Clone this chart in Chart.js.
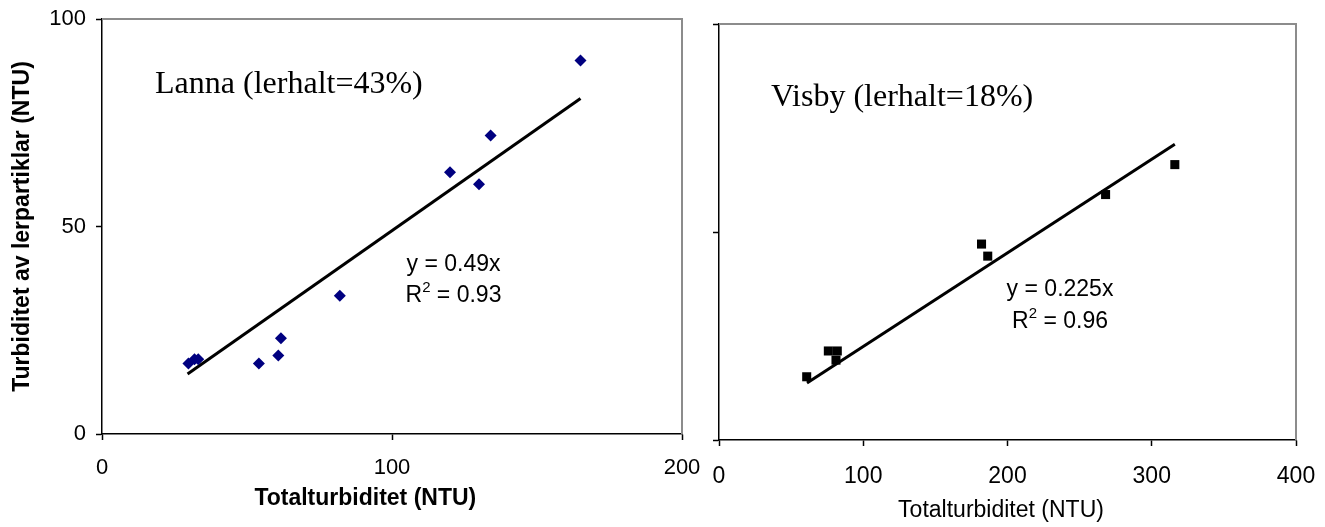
<!DOCTYPE html>
<html lang="sv">

<head>
  <meta charset="utf-8">
  <title>Turbiditet</title>
  <script src="https://cdn.jsdelivr.net/npm/chart.js"></script>
  <style>
    body { margin: 0; background: #fff; }
    #left_box { position: absolute; left: 0; top: 0; width: 700px; height: 527px; }
    #right_box { position: absolute; left: 700px; top: 0; width: 625px; height: 527px; }
  </style>

  <script type="text/javascript">
    // Lanna (lerhalt=43%)
    const lannaX = [29.8, 31.9, 33.2, 54.1, 60.8, 61.7, 82, 120, 130, 134, 165];
    const lannaY = [17.0, 18.0, 18.0, 17.0, 18.9, 23.1, 33.3, 63.1, 60.2, 71.9, 90.0];
    const lannaSlope = 0.49;
    const lannaFitRange = [29.5, 165];

    // Visby (lerhalt=18%)
    const visbyX = [60.8, 75.8, 82.0, 81.1, 182, 186.3, 268, 316];
    const visbyY = [15.2, 21.4, 21.4, 19.2, 47.1, 44.2, 59.0, 66.2];
    const visbySlope = 0.225;
    const visbyFitRange = [61, 316];

    const lannaXTicks = [0, 100, 200];
    const visbyXTicks = [0, 100, 200, 300, 400];
    const yTicks = [0, 50, 100];

    const SANS = "'Liberation Sans', Arial, sans-serif";
    const SERIF = "'Liberation Serif', 'Times New Roman', serif";

    function toPoints(xs, ys) {
      return xs.map((x, i) => ({ x: x, y: ys[i] }));
    }

    function fitLine(slope, range) {
      return range.map(x => ({ x: x, y: slope * x }));
    }

    // grey top/right frame of the plot area
    const framePlugin = {
      id: 'frame',
      beforeDatasetsDraw(chart) {
        const a = chart.chartArea;
        const ctx = chart.ctx;
        ctx.save();
        ctx.strokeStyle = '#8c8c8c';
        ctx.lineWidth = 2;
        ctx.beginPath();
        ctx.moveTo(a.left, a.top);
        ctx.lineTo(a.right, a.top);
        ctx.lineTo(a.right, a.bottom);
        ctx.stroke();
        ctx.restore();
      }
    };

    // text placed in data coordinates, plus the x axis title (Excel puts it off-centre)
    const notesPlugin = {
      id: 'notes',
      afterDatasetsDraw(chart, args, opts) {
        const ctx = chart.ctx;
        const sx = chart.scales.x, sy = chart.scales.y;
        ctx.save();
        ctx.fillStyle = '#000';
        ctx.textBaseline = 'middle';
        (opts.items || []).forEach(n => {
          const px = sx.getPixelForValue(n.x);
          const py = sy.getPixelForValue(n.y);
          ctx.font = n.font;
          if (n.sup) {
            const small = '15px ' + SANS;
            const w1 = ctx.measureText(n.text).width;
            const w3 = ctx.measureText(n.rest).width;
            ctx.font = small;
            const w2 = ctx.measureText(n.sup).width;
            let x0 = n.align === 'center' ? px - (w1 + w2 + w3) / 2 : px;
            ctx.textAlign = 'left';
            ctx.font = n.font;
            ctx.fillText(n.text, x0, py);
            ctx.font = small;
            ctx.fillText(n.sup, x0 + w1, py - 8);
            ctx.font = n.font;
            ctx.fillText(n.rest, x0 + w1 + w2, py);
          } else {
            ctx.textAlign = n.align || 'left';
            ctx.fillText(n.text, px, py);
          }
        });
        if (opts.xTitle) {
          const t = opts.xTitle;
          ctx.font = t.font;
          ctx.textAlign = 'center';
          ctx.fillText(t.text, sx.getPixelForValue(t.x), t.y);
        }
        ctx.restore();
      }
    };

    function axisBase(min, max, ticks) {
      return {
        type: 'linear',
        min: min,
        max: max,
        afterBuildTicks: s => { s.ticks = ticks.map(v => ({ value: v })); },
        grid: { drawOnChartArea: false, drawTicks: true, tickLength: 6, tickColor: '#000', tickWidth: 1.5 },
        border: { color: '#000', width: 1.5 }
      };
    }

    function draw_lanna() {
      const xAxis = axisBase(0, 200, lannaXTicks);
      xAxis.ticks = { color: '#000', padding: 15, font: { family: SANS, size: 22 } };
      xAxis.afterFit = s => { s.height = 93; s.paddingLeft = 0; s.paddingRight = 0; };

      const yAxis = axisBase(0, 100, yTicks);
      yAxis.ticks = { color: '#000', padding: 10, font: { family: SANS, size: 22 } };
      yAxis.title = { display: true, text: 'Turbiditet av lerpartiklar (NTU)', color: '#000', padding: { top: 9, bottom: 0 }, font: { family: SANS, size: 23, weight: 'bold' } };
      yAxis.afterFit = s => { s.width = 102; s.paddingTop = 0; s.paddingBottom = 0; };

      new Chart(document.getElementById('lanna'), {
        type: 'scatter',
        data: {
          datasets: [
            { data: toPoints(lannaX, lannaY), pointStyle: 'rectRot', pointRadius: 6, backgroundColor: '#000080', borderColor: '#000080', borderWidth: 0 },
            { type: 'line', data: fitLine(lannaSlope, lannaFitRange), borderColor: '#000', borderWidth: 3, pointRadius: 0, fill: false }
          ]
        },
        options: {
          responsive: false,
          animation: false,
          devicePixelRatio: 1,
          layout: { padding: { top: 19, right: 18, bottom: 0, left: 0 } },
          scales: { x: xAxis, y: yAxis },
          plugins: {
            legend: { display: false },
            tooltip: { enabled: false },
            notes: {
              items: [
                { x: 18.3, y: 84.3, text: 'Lanna (lerhalt=43%)', font: '32px ' + SERIF, align: 'left' },
                { x: 121.2, y: 40.7, text: 'y = 0.49x', font: '23px ' + SANS, align: 'center' },
                { x: 121.2, y: 33.3, text: 'R', sup: '2', rest: ' = 0.93', font: '23px ' + SANS, align: 'center' }
              ],
              xTitle: { text: 'Totalturbiditet (NTU)', x: 90.8, y: 499, font: 'bold 23px ' + SANS }
            }
          }
        },
        plugins: [framePlugin, notesPlugin]
      });
    }

    function draw_visby() {
      const xAxis = axisBase(0, 400, visbyXTicks);
      xAxis.ticks = { color: '#000', padding: 17, font: { family: SANS, size: 23 } };
      xAxis.afterFit = s => { s.height = 87; s.paddingLeft = 0; s.paddingRight = 0; };

      const yAxis = axisBase(0, 100, yTicks);
      yAxis.ticks = { display: false };
      yAxis.afterFit = s => { s.width = 19; s.paddingTop = 0; s.paddingBottom = 0; };

      new Chart(document.getElementById('visby'), {
        type: 'scatter',
        data: {
          datasets: [
            { data: toPoints(visbyX, visbyY), pointStyle: 'rect', pointRadius: 6.4, backgroundColor: '#000', borderColor: '#000', borderWidth: 0 },
            { type: 'line', data: fitLine(visbySlope, visbyFitRange), borderColor: '#000', borderWidth: 3, pointRadius: 0, fill: false }
          ]
        },
        options: {
          responsive: false,
          animation: false,
          devicePixelRatio: 1,
          layout: { padding: { top: 24, right: 29, bottom: 0, left: 0 } },
          scales: { x: xAxis, y: yAxis },
          plugins: {
            legend: { display: false },
            tooltip: { enabled: false },
            notes: {
              items: [
                { x: 36, y: 82.2, text: 'Visby (lerhalt=18%)', font: '32px ' + SERIF, align: 'left' },
                { x: 236.4, y: 36.1, text: 'y = 0.225x', font: '23px ' + SANS, align: 'center' },
                { x: 236.4, y: 28.4, text: 'R', sup: '2', rest: ' = 0.96', font: '23px ' + SANS, align: 'center' }
              ],
              xTitle: { text: 'Totalturbiditet (NTU)', x: 195.5, y: 511, font: '23px ' + SANS }
            }
          }
        },
        plugins: [framePlugin, notesPlugin]
      });
    }

    window.onload = function () {
      draw_lanna();
      draw_visby();
    };
  </script>
</head>

<body>
  <div id="left_box"><canvas id="lanna" width="700" height="527"></canvas></div>
  <div id="right_box"><canvas id="visby" width="625" height="527"></canvas></div>
</body>

</html>
